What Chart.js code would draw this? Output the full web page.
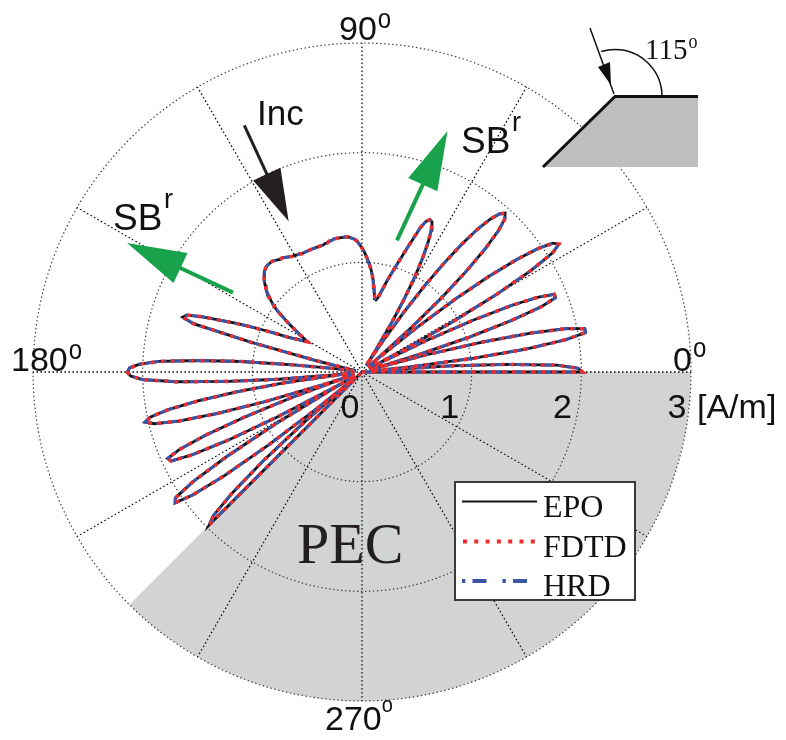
<!DOCTYPE html>
<html>
<head>
<meta charset="utf-8">
<script src="https://cdn.jsdelivr.net/npm/chart.js@4.4.1/dist/chart.umd.min.js"></script>
<style>
html,body{margin:0;padding:0;background:#fff;}
#wrap{width:786px;height:740px;position:relative;}
</style>
</head>
<body>
<div id="wrap"><canvas id="c" width="786" height="740"></canvas></div>
<script>
// ---- data (polar: angle in degrees, magnitude in A/m) ----
const angleDeg = [0,0,1,2,3,4,5,5.3,6,7,8,9,10,11,12,13,14,15,16,17,18,19,20,21,22,23,24,25,26,27,27.3,28,29,
30,31,32,33,34,35,36,37,38,39,40,40.5,41,42,43,44,45,46,47,48,49,50,51,52,53,54,55,56,57,58,59,
60,61,62,63,64,65,66,67,68,69,70,71,72,73,74,75,76,77,78,79,80,81,82,83,84,85,86,87,88,89,
90,91,92,93,94,95,96,97,98,99,100,101,102,103,104,105,106,107,108,109,110,111,112,113,114,115,116,117,118,119,
120,121,122,123,124,125,126,127,128,129,130,131,132,133,134,135,136,137,138,139,140,141,142,143,144,145,146,147,148,149,
150,151,152,153,154,155,156,157,158,159,160,161,162,163,164,165,166,167,168,169,170,171,172,173,174,175,176,177,178,179,
180,181,182,183,184,185,186,186.5,187,188,189,190,191,192,193,194,195,196,197,198,198.7,199,
200,201,202,203,204,205,206,207,208,209,209.5,210,211,212,213,214,215,216,217,218,219,219.8,220,221,222,223,224,225,225];

const epoR = [0,2.01,1.97,1.78,1.32,0.80,0.22,0.07,0.44,1.03,1.52,1.88,2.07,2.07,1.90,1.58,1.13,0.59,0.07,0.54,1.03,1.44,1.74,1.89,1.89,1.75,1.49,1.11,0.66,0.16,0.07,0.40,0.95,
1.43,1.80,2.05,2.14,2.10,1.97,1.75,1.45,1.08,0.67,0.23,0.07,0.21,0.61,0.99,1.32,1.59,1.79,1.91,1.95,1.91,1.82,1.68,1.48,1.24,0.97,0.66,0.34,0.07,0.27,0.53,
0.78,1.00,1.18,1.33,1.44,1.51,1.52,1.49,1.42,1.30,1.20,1.11,1.03,0.96,0.90,0.84,0.78,0.73,0.69,0.67,0.68,0.72,0.78,0.84,0.89,0.94,0.98,1.02,1.06,1.10,
1.13,1.16,1.19,1.21,1.22,1.23,1.24,1.24,1.24,1.24,1.24,1.24,1.24,1.23,1.23,1.22,1.22,1.21,1.21,1.21,1.21,1.21,1.21,1.21,1.21,1.21,1.21,1.21,1.22,1.22,
1.23,1.23,1.24,1.25,1.26,1.27,1.27,1.28,1.29,1.30,1.30,1.30,1.30,1.29,1.28,1.26,1.24,1.22,1.19,1.16,1.13,1.09,1.05,1.01,0.96,0.89,0.83,0.77,0.71,0.66,
0.61,0.57,0.60,0.65,0.70,0.76,0.87,0.98,1.11,1.25,1.38,1.55,1.68,1.71,1.60,1.05,0.45,0.12,0.07,0.07,0.07,0.07,0.09,0.25,0.60,1.10,1.50,1.85,2.03,2.12,
2.14,2.11,2.00,1.70,1.22,0.76,0.26,0.07,0.24,0.72,1.15,1.52,1.80,1.97,2.03,1.95,1.73,1.37,0.92,0.39,0.07,0.16,
0.68,1.15,1.54,1.81,1.94,1.92,1.72,1.36,0.87,0.30,0.07,0.32,0.93,1.45,1.84,2.05,2.08,1.91,1.57,1.08,0.50,0.07,0.12,0.70,1.22,1.62,1.88,1.97,0];

// FDTD and HRD curves coincide with EPO at the resolution of the picture
const fdtdR = epoR.slice();
const hrdR = epoR.slice();

const seriesNames = ['EPO', 'FDTD', 'HRD'];
const radialTicks = [0, 1, 2, 3];
const angleTicks = [0, 30, 60, 90, 120, 150, 180, 210, 240, 270, 300, 330];
const angleLabels = ['0', '90', '180', '270'];
const pecFaceDeg = 225;   // second PEC face (free space spans 0..225 deg)

// annotation arrows in data units (x,y)
const incArrow = {tail: [-1.073, 2.249], tip: [-0.669, 1.374]};
const sbRight = {tail: [0.319, 1.200], tip: [0.780, 2.197]};
const sbLeft  = {tail: [-1.176, 0.724], tip: [-2.142, 1.176]};

// ---- build polar -> cartesian table for the scatter scales ----
function toXY(ang, rad) {
  return ang.map((a, i) => ({x: rad[i] * Math.cos(a * Math.PI / 180), y: rad[i] * Math.sin(a * Math.PI / 180)}));
}

const styles = {
  EPO:  {color: '#151515', width: 2.8, dash: []},
  FDTD: {color: '#ee2c2c', width: 3.6, dash: [3.6, 6.4]},
  HRD:  {color: '#3b55a6', width: 3.0, dash: [14, 4, 3, 4]}
};

const SANS = '"Liberation Sans", Arial, sans-serif';
const SERIF = '"Liberation Serif", "Times New Roman", serif';

function supText(ctx, base, sup, x, y, size, supSize, supDx, supDy, font) {
  ctx.font = size + 'px ' + font;
  ctx.textAlign = 'left';
  ctx.textBaseline = 'alphabetic';
  ctx.fillText(base, x, y);
  const w = ctx.measureText(base).width;
  ctx.save();
  ctx.font = supSize + 'px ' + font;
  ctx.translate(x + w + supDx, y + supDy);
  ctx.scale(1, 1.12);
  ctx.fillText(sup, 0, 0);
  ctx.restore();
}

function drawArrow(ctx, p0, p1, color, shaftW, headLen, headHalf) {
  const dx = p1.x - p0.x, dy = p1.y - p0.y;
  const L = Math.hypot(dx, dy);
  const ux = dx / L, uy = dy / L;
  const bx = p1.x - ux * headLen, by = p1.y - uy * headLen;
  ctx.save();
  ctx.strokeStyle = color;
  ctx.fillStyle = color;
  ctx.lineWidth = shaftW;
  ctx.setLineDash([]);
  ctx.beginPath();
  ctx.moveTo(p0.x, p0.y);
  ctx.lineTo(bx + ux * 2, by + uy * 2);
  ctx.stroke();
  ctx.beginPath();
  ctx.moveTo(p1.x, p1.y);
  ctx.lineTo(bx - uy * headHalf, by + ux * headHalf);
  ctx.lineTo(bx + uy * headHalf, by - ux * headHalf);
  ctx.closePath();
  ctx.fill();
  ctx.restore();
}

const decor = {
  id: 'decor',
  beforeDraw(chart) {
    const ctx = chart.ctx;
    ctx.save();
    ctx.fillStyle = '#ffffff';
    ctx.fillRect(0, 0, chart.width, chart.height);
    ctx.restore();
  },
  beforeDatasetsDraw(chart) {
    const {ctx, scales: {x, y}} = chart;
    const cx = x.getPixelForValue(0), cy = y.getPixelForValue(0);
    const R = x.getPixelForValue(radialTicks[radialTicks.length - 1]) - cx;
    ctx.save();
    // PEC sector (inside the wedge) from face at 225 deg round to 360 deg
    ctx.fillStyle = '#d1d3d4';
    ctx.beginPath();
    ctx.moveTo(cx, cy);
    ctx.arc(cx, cy, R, 0, (360 - pecFaceDeg) * Math.PI / 180, false);
    ctx.closePath();
    ctx.fill();
    // circles
    ctx.strokeStyle = '#3a3a3a';
    ctx.lineWidth = 1.2;
    ctx.setLineDash([1.4, 2.6]);
    radialTicks.slice(1).forEach(v => {
      const r = x.getPixelForValue(v) - cx;
      ctx.beginPath();
      ctx.arc(cx, cy, r, 0, Math.PI * 2);
      ctx.stroke();
    });
    // spokes
    ctx.strokeStyle = '#111';
    ctx.lineWidth = 1.3;
    ctx.setLineDash([1.6, 2.4]);
    angleTicks.forEach(a => {
      const t = a * Math.PI / 180;
      ctx.beginPath();
      ctx.moveTo(cx, cy);
      ctx.lineTo(cx + R * Math.cos(t), cy - R * Math.sin(t));
      ctx.stroke();
    });
    ctx.restore();
  },
  afterDatasetsDraw(chart) {
    const {ctx, scales: {x, y}} = chart;
    const P = (d) => ({x: x.getPixelForValue(d[0]), y: y.getPixelForValue(d[1])});
    ctx.save();
    ctx.fillStyle = '#111';
    // angle labels
    supText(ctx, angleLabels[1], 'o', 339, 40, 34, 24, 1, -12, SANS);
    supText(ctx, angleLabels[2], 'o', 11, 371, 34, 24, 1, -12, SANS);
    supText(ctx, angleLabels[0], 'o', 673, 371, 34, 24, 1, -14, SANS);
    supText(ctx, angleLabels[3], 'o', 325, 730, 34, 20, 0, -18, SANS);
    // radial labels
    ctx.font = '34px ' + SANS;
    ctx.textAlign = 'center';
    const offs = [-12, -22, -19, -14];
    radialTicks.forEach((v, i) => {
      ctx.fillText(String(v), x.getPixelForValue(v) + offs[i], 418);
    });
    ctx.textAlign = 'left';
    ctx.fillText('[A/m]', 697, 418);
    // Inc and SB^r texts
    ctx.font = '35px ' + SANS;
    ctx.fillText('Inc', 257, 125);
    ctx.font = '37px ' + SANS;
    ctx.fillText('SB', 461, 153);
    ctx.fillText('SB', 113, 230);
    ctx.font = '27px ' + SANS;
    ctx.fillText('r', 512, 131);
    ctx.fillText('r', 164, 208);
    // arrows
    drawArrow(ctx, P(incArrow.tail), P(incArrow.tip), '#231f20', 3, 52, 15);
    drawArrow(ctx, P(sbRight.tail), P(sbRight.tip), '#17a24b', 4, 59, 16);
    drawArrow(ctx, P(sbLeft.tail), P(sbLeft.tip), '#17a24b', 4, 59, 16.5);
    // PEC label
    ctx.font = '58px ' + SERIF;
    ctx.fillStyle = '#231f20';
    ctx.fillText('PEC', 297, 563);

    // legend box
    ctx.fillStyle = '#ffffff';
    ctx.fillRect(455, 482, 180, 118);
    ctx.strokeStyle = '#3a3a3a';
    ctx.lineWidth = 2;
    ctx.setLineDash([]);
    ctx.strokeRect(455, 482, 180, 118);
    const rows = [501.5, 541.5, 581];
    const legDash = {EPO: [], FDTD: [4, 7.3], HRD: [3.3, 7.2, 14, 16]};
    seriesNames.forEach((n, i) => {
      const s = styles[n];
      ctx.strokeStyle = s.color;
      ctx.lineWidth = n === 'EPO' ? 2 : 4;
      ctx.setLineDash(legDash[n]);
      ctx.beginPath();
      ctx.moveTo(n === 'FDTD' ? 463 : 462, rows[i]);
      ctx.lineTo(537, rows[i]);
      ctx.stroke();
      ctx.setLineDash([]);
      ctx.fillStyle = '#111';
      ctx.font = '32px ' + SERIF;
      ctx.fillText(n, 543, rows[i] + 15);
    });

    // inset wedge sketch
    ctx.fillStyle = '#bcbec0';
    ctx.beginPath();
    ctx.moveTo(543, 167); ctx.lineTo(615, 96.5); ctx.lineTo(698, 96.5); ctx.lineTo(698, 167);
    ctx.closePath(); ctx.fill();
    ctx.strokeStyle = '#111';
    ctx.lineWidth = 3;
    ctx.beginPath();
    ctx.moveTo(543, 167); ctx.lineTo(615, 96.5); ctx.lineTo(698, 96.5);
    ctx.stroke();
    ctx.lineWidth = 1.5;
    ctx.beginPath();
    ctx.arc(615, 96.5, 47, Math.PI * 2 - 0.0, Math.PI * 2 - 107 * Math.PI / 180, true);
    ctx.stroke();
    ctx.beginPath();
    ctx.moveTo(590, 28); ctx.lineTo(614, 94);
    ctx.stroke();
    ctx.fillStyle = '#111';
    ctx.beginPath();
    ctx.moveTo(611, 85); ctx.lineTo(598, 67); ctx.lineTo(610, 62);
    ctx.closePath(); ctx.fill();
    ctx.fillStyle = '#111';
    supText(ctx, '115', 'o', 645, 59, 29, 18, 1, -11, SERIF);
    ctx.restore();
  }
};

new Chart(document.getElementById('c'), {
  type: 'scatter',
  data: {
    datasets: [
      {label: 'FDTD', data: toXY(angleDeg, fdtdR), showLine: true, borderColor: styles.FDTD.color,
       borderWidth: styles.FDTD.width, borderDash: styles.FDTD.dash, pointRadius: 0, fill: false, order: 1},
      {label: 'HRD', data: toXY(angleDeg, hrdR), showLine: true, borderColor: styles.HRD.color,
       borderWidth: styles.HRD.width, borderDash: styles.HRD.dash, pointRadius: 0, fill: false, order: 2},
      {label: 'EPO', data: toXY(angleDeg, epoR), showLine: true, borderColor: styles.EPO.color,
       borderWidth: styles.EPO.width, pointRadius: 0, fill: false, order: 3}
    ]
  },
  options: {
    responsive: false,
    animation: false,
    layout: {padding: {left: 33, right: 95, top: 43, bottom: 39}},
    scales: {
      x: {type: 'linear', min: -3, max: 3, display: false},
      y: {type: 'linear', min: -3, max: 3, display: false}
    },
    plugins: {legend: {display: false}, tooltip: {enabled: false}},
    elements: {line: {tension: 0}, point: {radius: 0}}
  },
  plugins: [decor]
});
</script>
</body>
</html>
